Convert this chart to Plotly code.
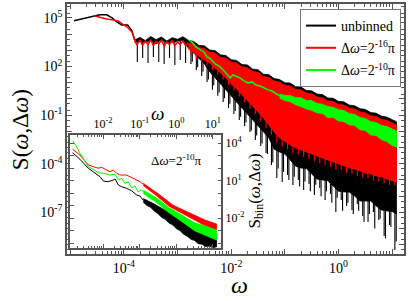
import plotly.graph_objects as go

# ---------------- main panel (values are log10(omega), log10(S)) ----------------
blk_line_w = [-4.93, -4.67, -4.45, -4.32, -4.22, -4.13, -4.04, -3.93, -3.85, -3.80]
blk_line_s = [4.82, 5.00, 5.19, 5.19, 5.00, 4.75, 4.57, 4.57, 4.20, 3.64]

red_line_w = [-4.54, -4.32, -4.11, -3.94, -3.85, -3.80, -3.76, -3.70, -3.65, -3.60, -3.55, -3.50, -3.45,
              -3.40, -3.35, -3.30, -3.25, -3.20, -3.15, -3.10, -3.05, -3.00, -2.95, -2.90, -2.85, -2.80]
red_line_s = [5.12, 4.94, 4.82, 4.44, 4.14, 3.64, 3.33, 3.62, 3.30, 3.58, 3.35, 3.65, 3.28,
              3.55, 3.40, 3.62, 3.25, 3.52, 3.35, 3.60, 3.30, 3.50, 3.38, 3.58, 3.30, 3.45]

grid_w = [-3.8, -3.7, -3.6, -3.5, -3.4, -3.3, -3.2, -3.1, -3.0, -2.9,
          -2.8, -2.7, -2.6, -2.5, -2.4, -2.3, -2.2, -2.1, -2.0, -1.9,
          -1.8, -1.7, -1.6, -1.5, -1.4, -1.3, -1.2, -1.1, -1.0, -0.9,
          -0.8, -0.7, -0.6, -0.5, -0.4, -0.3, -0.2, -0.1, 0.0, 0.1,
          0.2, 0.3, 0.4, 0.5, 0.6, 0.7, 0.8, 0.9, 1.0, 1.08]
spike_w = [-3.75, -3.65, -3.55, -3.45, -3.35, -3.25, -3.15, -3.05, -2.95, -2.85,
           -2.75, -2.65, -2.55, -2.45, -2.35, -2.25, -2.15, -2.05, -1.95, -1.85,
           -1.75, -1.65, -1.55, -1.45, -1.35, -1.25, -1.15, -1.05, -0.95, -0.85,
           -0.75, -0.65, -0.55, -0.45, -0.35, -0.25, -0.15, -0.05, 0.05, 0.15,
           0.25, 0.35, 0.45, 0.55, 0.65, 0.75, 0.85, 0.95, 1.05]
spike2_w = [-2.725, -2.625, -2.525, -2.425, -2.325, -2.225, -2.125, -2.025, -1.925, -1.825,
            -1.725, -1.625, -1.525, -1.425, -1.325, -1.225, -1.125, -1.025, -0.925, -0.825,
            -0.725, -0.625, -0.525, -0.425, -0.325, -0.225, -0.125, -0.025, 0.075, 0.175,
            0.275, 0.375, 0.475, 0.575, 0.675, 0.775, 0.875, 0.975, 1.075]

blk_top_s = [3.64, 3.80, 3.60, 3.86, 3.66, 3.82, 3.58, 3.78, 3.68, 3.84,
             3.62, 3.55, 3.30, 3.28, 3.02, 2.98, 2.72, 2.68, 2.42, 2.38,
             2.12, 2.10, 1.84, 1.80, 1.52, 1.50, 1.26, 1.20, 1.00, 0.98,
             0.76, 0.74, 0.52, 0.50, 0.30, 0.27, 0.06, 0.04, -0.15, -0.18,
             -0.38, -0.42, -0.60, -0.65, -0.84, -0.88, -1.06, -1.12, -1.28, -1.40]
blk_bot_s = [3.48, 3.55, 3.50, 3.60, 3.40, 3.66, 3.45, 3.52, 3.56, 3.60,
             3.15, 2.84, 2.53, 2.16, 1.67, 1.30, 0.93, 0.56, 0.19, -0.19,
             -0.56, -0.93, -1.30, -1.67, -2.04, -2.40, -3.10, -3.27, -3.40, -3.77,
             -4.15, -4.26, -4.30, -4.63, -4.95, -5.00, -5.05, -5.37, -5.70, -5.74,
             -5.75, -5.99, -6.30, -6.30, -6.30, -6.60, -6.85, -6.91, -6.95, -7.10]
blk_spike_s = [2.28, 2.53, 2.22, 2.59, 2.28, 2.16, 2.53, 2.10, 2.41, 2.22,
               2.16, 1.79, 1.42, 1.05, 0.56, 0.19, -0.19, -0.56, -0.93, -1.30,
               -1.67, -2.04, -2.53, -2.90, -3.33, -4.07, -4.88, -5.12, -4.69, -5.31,
               -5.00, -5.62, -5.25, -5.93, -5.49, -6.23, -5.86, -6.98, -6.23, -6.60,
               -6.85, -6.48, -7.22, -7.59, -6.98, -7.47, -8.46, -7.78, -9.32]
blk_spike2_s = [2.30, 1.95, 1.70, 1.20, 0.85, 0.40, 0.05, -0.30, -0.75, -1.10,
                -1.45, -1.95, -2.25, -2.75, -3.40, -3.90, -4.30, -4.50, -5.00, -4.80,
                -5.40, -5.10, -5.70, -5.30, -6.00, -5.70, -6.40, -6.10, -6.90, -6.40,
                -7.10, -6.90, -7.60, -7.10, -8.00, -7.40, -8.60, -7.90, -8.80]

red_top_s = [3.45, 3.40, 3.18, 3.12, 2.88, 2.84, 2.58, 2.52, 2.28, 2.22,
             1.98, 1.94, 1.70, 1.64, 1.38, 1.34, 1.10, 1.04, 0.84, 0.80,
             0.60, 0.56, 0.36, 0.32, 0.12, 0.08, -0.12, -0.16, -0.34, -0.38,
             -0.56, -0.62, -0.80, -0.86, -1.04, -1.08, -1.26, -1.32, -1.48, -1.60]
red_bot_s = [3.09, 2.84, 2.65, 2.41, 2.22, 1.91, 1.60, 1.30, 0.93, 0.62,
             0.31, -0.06, -0.43, -0.80, -1.17, -1.60, -2.04, -2.41, -2.65, -2.84,
             -3.02, -3.15, -3.27, -3.40, -3.52, -3.64, -3.77, -3.89, -4.01, -4.14,
             -4.26, -4.32, -4.44, -4.57, -4.63, -4.75, -4.81, -4.94, -5.06, -5.12]
red_spike_s = [2.70, 2.45, 2.30, 2.05, 1.80, 1.50, 1.20, 0.85, 0.50, 0.15,
               -0.20, -0.60, -0.95, -1.40, -1.80, -2.20, -2.70, -2.95, -3.10, -3.35,
               -3.45, -3.60, -3.70, -3.85, -3.95, -4.10, -4.20, -4.35, -4.40, -4.55,
               -4.60, -4.75, -4.85, -4.90, -5.05, -5.10, -5.20, -5.30, -5.35]

grn_line_w = [-2.79, -2.72, -2.66, -2.58, -2.51, -2.45, -2.38, -2.30, -2.23, -2.15, -2.08, -2.02, -1.97,
              -1.89, -1.84, -1.76, -1.69, -1.61, -1.54, -1.46, -1.39, -1.31, -1.24, -1.16, -1.10]
grn_line_s = [3.64, 3.46, 3.21, 3.02, 2.90, 2.59, 2.47, 2.16, 2.04, 1.79, 1.54, 1.30, 1.48,
              1.36, 1.30, 1.11, 0.99, 1.05, 0.86, 0.80, 0.68, 0.56, 0.49, 0.31, 0.19]
grn_top_s = [0.31, 0.22, 0.21, 0.08, 0.08, -0.10, -0.10, -0.28, -0.33, -0.47, -0.52, -0.66,
             -0.72, -0.90, -0.95, -1.15, -1.20, -1.40, -1.45, -1.64, -1.70, -1.88, -1.98]
grn_bot_s = [0.06, -0.10, -0.17, -0.36, -0.46, -0.62, -0.70, -0.86, -0.90, -1.16, -1.14, -1.36,
             -1.40, -1.60, -1.64, -1.90, -1.95, -2.22, -2.25, -2.52, -2.62, -2.88, -2.96]

# ---------------- inset (log10 values) ----------------
ins_blk_line_w = [-2.83, -2.63, -2.40, -2.22, -2.08, -1.99, -1.86, -1.72, -1.67, -1.58, -1.49, -1.36, -1.22, -1.08, -0.99, -0.90]
ins_blk_line_s = [3.22, 2.70, 1.98, 1.62, 1.30, 0.96, 0.90, 1.04, 1.12, 0.64, 0.50, 0.38, 0.18, -0.16, -0.24, -0.60]
ins_red_line_w = [-2.83, -2.63, -2.40, -2.27, -2.13, -2.04, -1.90, -1.81, -1.72, -1.63, -1.54, -1.36, -1.18, -0.99, -0.90]
ins_red_line_s = [3.50, 3.04, 2.24, 2.10, 1.98, 2.06, 1.84, 1.70, 1.84, 1.58, 1.44, 1.44, 1.18, 0.90, 0.70]
ins_grn_line_w = [-2.83, -2.72, -2.63, -2.49, -2.40, -2.27, -2.13, -1.99, -1.81, -1.67, -1.58, -1.49, -1.40,
                  -1.31, -1.22, -1.13, -1.04, -0.95, -0.90]
ins_grn_line_s = [4.18, 3.70, 3.18, 2.50, 2.10, 1.90, 1.62, 1.58, 1.44, 1.50, 1.04, 1.18, 0.78,
                  0.90, 0.42, 0.56, 0.10, 0.24, 0.10]
ins_grid_w = [-0.9, -0.8, -0.7, -0.6, -0.5, -0.4, -0.3, -0.2, -0.1, 0.0, 0.1,
              0.2, 0.3, 0.4, 0.5, 0.6, 0.7, 0.8, 0.9, 1.0, 1.1]
ins_blk_top = [-0.45, -0.58, -0.70, -0.88, -1.05, -1.22, -1.45, -1.58, -1.78, -1.92, -2.12,
               -2.28, -2.45, -2.62, -2.80, -2.92, -3.05, -3.18, -3.30, -3.38, -3.42]
ins_blk_bot = [-0.75, -1.00, -1.15, -1.45, -1.65, -1.95, -2.10, -2.40, -2.55, -2.85, -3.00,
               -3.30, -3.45, -3.70, -3.80, -4.05, -4.10, -4.28, -4.25, -4.38, -4.30]
ins_red_top = [0.78, 0.55, 0.35, 0.15, -0.04, -0.28, -0.52, -0.76, -0.95, -1.10, -1.24,
               -1.38, -1.52, -1.66, -1.76, -1.90, -2.04, -2.18, -2.28, -2.38, -2.48]
ins_red_bot = [0.60, 0.35, 0.14, -0.07, -0.28, -0.53, -0.80, -1.05, -1.26, -1.42, -1.58,
               -1.74, -1.90, -2.06, -2.16, -2.32, -2.48, -2.64, -2.74, -2.86, -2.98]
ins_grn_top = [0.22, 0.05, -0.14, -0.28, -0.47, -0.70, -0.94, -1.18, -1.32, -1.50, -1.66,
               -1.82, -2.01, -2.20, -2.38, -2.47, -2.56, -2.64, -2.78, -2.86, -2.96]
ins_grn_bot = [-0.02, -0.25, -0.46, -0.62, -0.84, -1.10, -1.36, -1.62, -1.78, -2.00, -2.18,
               -2.38, -2.60, -2.80, -3.02, -3.13, -3.24, -3.36, -3.52, -3.64, -3.76]

legend_names = ["unbinned", "Δ<i>ω</i>=2<sup>-16</sup>π", "Δ<i>ω</i>=2<sup>-10</sup>π"]
inset_label = "Δ<i>ω</i>=2<sup>-10</sup>π"

BLACK, RED, GREEN = "#000000", "#ff0000", "#00ff00"
SERIF = "Liberation Serif"


def P(v):
    return [10 ** a for a in v]


def line(w, s, color, xa="x", ya="y", width=1.4):
    return go.Scatter(x=P(w), y=P(s), mode="lines", line=dict(color=color, width=width),
                      xaxis=xa, yaxis=ya, showlegend=False, hoverinfo="skip")


def band(w, top, bot, color, xa="x", ya="y"):
    return go.Scatter(x=P(w) + P(w[::-1]), y=P(top) + P(bot[::-1]), mode="lines", fill="toself",
                      fillcolor=color, line=dict(color=color, width=0.8),
                      xaxis=xa, yaxis=ya, showlegend=False, hoverinfo="skip")


def spikes(w, base, tip, color, width=1.1):
    xs, ys = [], []
    for a, b, c in zip(w, base, tip):
        xs += [10 ** a, 10 ** a, None]
        ys += [10 ** b, 10 ** c, None]
    return go.Scatter(x=xs, y=ys, mode="lines", line=dict(color=color, width=width),
                      showlegend=False, hoverinfo="skip")


fig = go.Figure()
fig.add_trace(line(blk_line_w, blk_line_s, BLACK, width=1.5))
fig.add_trace(band(grid_w, blk_top_s, blk_bot_s, BLACK))
fig.add_trace(spikes(spike_w, blk_bot_s[:len(spike_w)], blk_spike_s, BLACK))
fig.add_trace(spikes(spike2_w, blk_bot_s[10:10 + len(spike2_w)], blk_spike2_s, BLACK))
fig.add_trace(line(red_line_w, red_line_s, RED, width=1.5))
fig.add_trace(band(grid_w[10:], red_top_s, red_bot_s, RED))
fig.add_trace(spikes(spike_w[10:], red_bot_s[:len(spike_w) - 10], red_spike_s, RED))
fig.add_trace(line(grn_line_w, grn_line_s, GREEN, width=1.5))
fig.add_trace(band(grid_w[27:], grn_top_s, grn_bot_s, GREEN))

fig.add_trace(line(ins_blk_line_w, ins_blk_line_s, BLACK, "x2", "y2", 1))
fig.add_trace(band(ins_grid_w, ins_blk_top, ins_blk_bot, BLACK, "x2", "y2"))
fig.add_trace(line(ins_red_line_w, ins_red_line_s, RED, "x2", "y2", 1))
fig.add_trace(band(ins_grid_w, ins_red_top, ins_red_bot, RED, "x2", "y2"))
fig.add_trace(line(ins_grn_line_w, ins_grn_line_s, GREEN, "x2", "y2", 1))
fig.add_trace(band(ins_grid_w, ins_grn_top, ins_grn_bot, GREEN, "x2", "y2"))

for name, col in zip(legend_names, [BLACK, RED, GREEN]):
    fig.add_trace(go.Scatter(x=[None], y=[None], mode="lines", name=name, legendgroup=name,
                             line=dict(color=col, width=2)))


def sup(k):
    return "10<sup>%d</sup>" % k


def minor_vals(k0, k1):
    return [m * 10 ** k for k in range(k0, k1 + 1) for m in range(2, 10)]


AX = dict(type="log", showgrid=False, zeroline=False, showline=True, linecolor="#555",
          linewidth=1.5, ticks="inside", tickcolor="#555", tickwidth=1, mirror="allticks")

x_dec = list(range(-5, 2))
y_dec = list(range(-9, 6))
fig.update_layout(
    width=409, height=301, margin=dict(l=67, r=5, t=4, b=47, autoexpand=False),
    paper_bgcolor="white", plot_bgcolor="white",
    font=dict(family=SERIF, color="black"),
    xaxis=dict(AX, range=[-5.06, 1.22], domain=[0, 1], anchor="y",
               tickmode="array", tickvals=[10 ** k for k in x_dec],
               ticktext=[sup(k) if k in (-4, -2, 0) else "" for k in x_dec],
               ticklen=5, tickfont=dict(size=14, family=SERIF),
               minor=dict(tickmode="array", tickvals=minor_vals(-5, 1), ticks="inside", ticklen=3,
                          tickcolor="#555")),
    yaxis=dict(AX, range=[-9.57, 5.86], domain=[0, 1], anchor="x",
               tickmode="array", tickvals=[10 ** k for k in y_dec],
               ticktext=[sup(k) if k in (-7, -4, -1, 2, 5) else "" for k in y_dec],
               ticklen=5, tickfont=dict(size=14, family=SERIF),
               minor=dict(tickmode="array", tickvals=[m * 10 ** k for k in range(-10, 6) for m in (2, 5)],
                          ticks="inside", ticklen=3, tickcolor="#555")),
    xaxis2=dict(AX, range=[-2.9, 1.23], domain=[0.009, 0.458], anchor="y2", side="top",
                tickmode="array", tickvals=[10 ** k for k in range(-2, 2)],
                ticktext=[sup(k) for k in range(-2, 2)],
                ticklen=4, tickfont=dict(size=12, family=SERIF),
                minor=dict(tickmode="array", tickvals=minor_vals(-3, 1), ticks="inside", ticklen=2,
                           tickcolor="#555")),
    yaxis2=dict(AX, range=[-4.4, 4.64], domain=[0.024, 0.476], anchor="x2", side="right",
                tickmode="array", tickvals=[10 ** k for k in range(-4, 5)],
                ticktext=[sup(k) if k in (-2, 1, 4) else "" for k in range(-4, 5)],
                ticklen=4, tickfont=dict(size=12, family=SERIF)),
    legend=dict(x=0.991, y=0.98, xanchor="right", yanchor="top", bgcolor="white",
                bordercolor="#777", borderwidth=1, font=dict(size=14, family=SERIF),
                tracegroupgap=1),
    annotations=[
        dict(text="S(<i>ω</i>,Δ<i>ω</i>)", xref="paper", yref="paper", x=-0.139, y=0.496,
             xanchor="center", yanchor="middle",
             textangle=-90, showarrow=False, font=dict(size=23, family=SERIF)),
        dict(text="<i>ω</i>", xref="paper", yref="paper", x=0.513, y=-0.124,
             xanchor="center", yanchor="middle",
             showarrow=False, font=dict(size=24, family=SERIF)),
        dict(text="<i>ω</i>", xref="paper", yref="paper", x=0.27, y=0.564,
             xanchor="center", yanchor="middle",
             showarrow=False, font=dict(size=19, family=SERIF)),
        dict(text="S<sub>bin</sub>(<i>ω</i>,Δ<i>ω</i>)", xref="paper", yref="paper", x=0.558, y=0.25,
             xanchor="center", yanchor="middle",
             textangle=-90, showarrow=False, font=dict(size=17, family=SERIF)),
        dict(text=inset_label, xref="paper", yref="paper", x=0.326, y=0.376,
             xanchor="center", yanchor="middle",
             showarrow=False, font=dict(size=13, family=SERIF)),
    ],
)

fig.write_html("out.html", config={"displayModeBar": False},
               post_script="document.body.style.margin='0px';")
